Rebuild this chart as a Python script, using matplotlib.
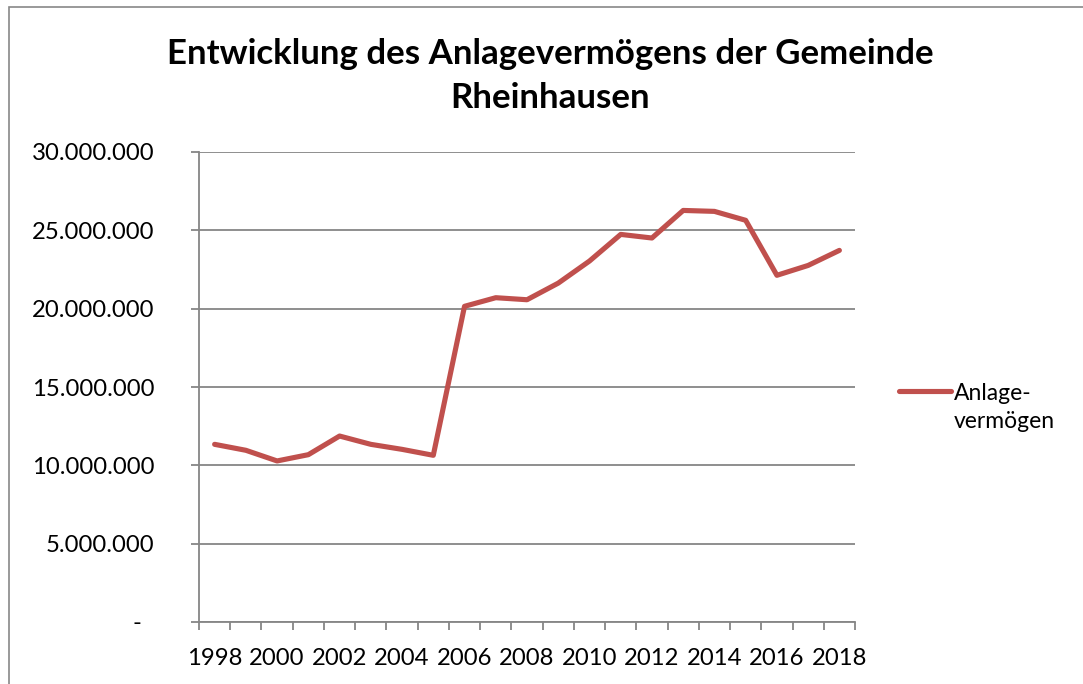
import matplotlib.pyplot as plt
import matplotlib.ticker as mticker
from matplotlib.patches import Rectangle
import numpy as np

# Data
years = list(range(1998, 2019))
anlagevermoegen = [
    11340000, 10960000, 10280000, 10680000, 11870000, 11340000, 11020000,
    10640000, 20150000, 20700000, 20570000, 21630000, 23040000, 24740000,
    24510000, 26270000, 26210000, 25640000, 22130000, 22760000, 23720000,
]
year_labels = [str(y) if y % 2 == 0 else '' for y in years]

TITLE = 'Entwicklung des Anlagevermögens der Gemeinde\nRheinhausen'
SERIES_NAME = 'Anlage-\nvermögen'

# Style
LINE_COLOR = '#C0504D'
GRID_COLOR = '#868686'
FONT = 'Lato'
TICK_SIZE = 17.2

W, H = 1083, 684
fig = plt.figure(figsize=(W / 100, H / 100), dpi=100)
fig.patch.set_facecolor('white')

# Chart frame (only top and left edges visible in the crop)
fig.patches.append(Rectangle((9 / W, -0.1), 1.2, 1.1 - 7 / H, transform=fig.transFigure,
                             fill=False, edgecolor='#878787', linewidth=1.2))

ax = fig.add_axes([199 / W, 62 / H, 656 / W, 470 / H])
x = np.arange(len(years))
ax.plot(x, anlagevermoegen, color=LINE_COLOR, linewidth=3.7,
        solid_capstyle='round', solid_joinstyle='round', label=SERIES_NAME)

ax.set_xlim(-0.5, len(years) - 0.5)
ax.set_ylim(0, 30000000)

# Grid and spines
ax.yaxis.grid(True, color=GRID_COLOR, linewidth=1.3)
ax.set_axisbelow(True)
for side in ['top', 'right']:
    ax.spines[side].set_visible(False)
for side in ['left', 'bottom']:
    ax.spines[side].set_color(GRID_COLOR)
    ax.spines[side].set_linewidth(1.3)

# Y ticks
ax.set_yticks(np.arange(0, 30000001, 5000000))

def fmt(v, pos):
    if v == 0:
        return '-  '
    return f'{int(v):,}'.replace(',', '.')

ax.yaxis.set_major_formatter(mticker.FuncFormatter(fmt))
ax.tick_params(axis='y', length=6, width=1.3, color=GRID_COLOR, pad=26,
               labelsize=TICK_SIZE, labelcolor='black')

# X ticks: labels at categories, tick marks between categories
ax.set_xticks(x)
ax.set_xticklabels(year_labels)
ax.set_xticks(np.arange(-0.5, len(years)), minor=True)
ax.tick_params(axis='x', which='major', length=0, pad=19, labelsize=TICK_SIZE, labelcolor='black')
ax.tick_params(axis='x', which='minor', length=6, width=1.3, color=GRID_COLOR)

for lbl in ax.get_xticklabels() + ax.get_yticklabels():
    lbl.set_fontfamily(FONT)

# Title
fig.text(550 / W, 1 - 76 / H, TITLE, ha='center', va='center', fontsize=25.1,
         fontweight='bold', fontfamily=FONT, linespacing=1.43)

# Legend
leg = ax.legend(loc='upper left', bbox_to_anchor=(878 / W, 1 - 362 / H),
                bbox_transform=fig.transFigure, frameon=False, handlelength=2.3,
                handletextpad=0.1, prop={'family': FONT, 'size': 16.5})
for t in leg.get_texts():
    t.set_linespacing(1.44)
# handle sits level with the first label line
hl = leg.get_lines()[0]
hl.set_ydata(np.asarray(hl.get_ydata()) + 11.9)

fig.savefig('out.png', dpi=100, facecolor='white')
